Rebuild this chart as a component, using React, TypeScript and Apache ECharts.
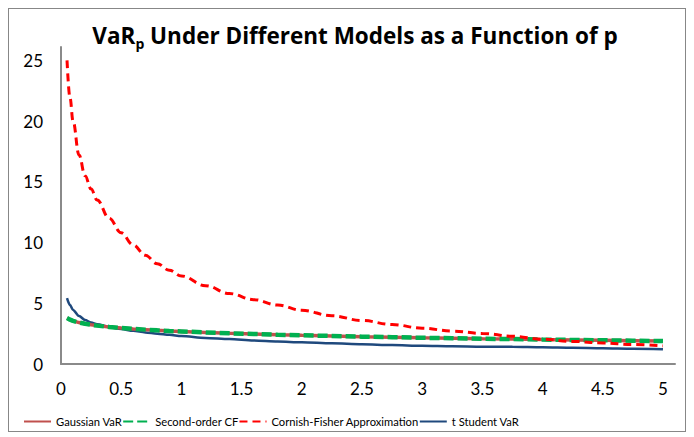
import React, { useEffect, useRef } from "react";
import * as echarts from "echarts";

// p (in %) at which each VaR estimate is evaluated
const pValues = [
  0.05, 0.075, 0.1, 0.15, 0.2, 0.25, 0.3, 0.4, 0.5, 0.6, 0.7, 0.8, 0.9, 1, 1.2,
  1.4, 1.6, 1.8, 2, 2.25, 2.5, 2.75, 3, 3.25, 3.5, 3.75, 4, 4.25, 4.5, 4.75, 5,
];

const gaussianVaR = [
  3.78, 3.65, 3.55, 3.41, 3.31, 3.23, 3.16, 3.05, 2.96, 2.89, 2.83, 2.77, 2.72,
  2.68, 2.6, 2.53, 2.47, 2.41, 2.36, 2.31, 2.25, 2.21, 2.16, 2.12, 2.08, 2.05,
  2.01, 1.98, 1.95, 1.92, 1.89,
];

const secondOrderCF = [
  3.78, 3.65, 3.55, 3.41, 3.31, 3.23, 3.16, 3.05, 2.96, 2.89, 2.83, 2.77, 2.72,
  2.68, 2.6, 2.53, 2.47, 2.41, 2.36, 2.31, 2.25, 2.21, 2.16, 2.12, 2.08, 2.05,
  2.01, 1.98, 1.95, 1.92, 1.89,
];

const cornishFisher = [
  25.0, 21.9, 20.0, 17.2, 15.5, 14.4, 13.5, 12.0, 10.8, 9.8, 8.95, 8.25, 7.72,
  7.25, 6.45, 5.8, 5.3, 4.85, 4.42, 3.97, 3.58, 3.25, 2.95, 2.71, 2.52, 2.28,
  2.04, 1.86, 1.73, 1.6, 1.49,
];

const tStudentVaR = [
  5.43, 4.85, 4.45, 3.95, 3.62, 3.42, 3.28, 3.05, 2.88, 2.73, 2.6, 2.5, 2.4,
  2.3, 2.15, 2.05, 1.93, 1.85, 1.79, 1.7, 1.62, 1.56, 1.5, 1.46, 1.43, 1.41,
  1.37, 1.33, 1.3, 1.26, 1.22,
];

const seriesNames = [
  "Gaussian VaR",
  "Second-order CF",
  "Cornish-Fisher Approximation",
  "t Student VaR",
];

const pairs = (ys: number[]) => pValues.map((p, i) => [p, ys[i]]);

const FONT = "Lato, 'Open Sans', sans-serif";
const TITLE_FONT = "'Open Sans', Lato, sans-serif";

export default function App() {
  const ref = useRef<HTMLDivElement>(null);

  useEffect(() => {
    if (!ref.current) return;
    const chart = echarts.init(ref.current, undefined, { renderer: "svg" });
    const axisLine = { show: true, lineStyle: { color: "#8a8a8a", width: 2 } };
    chart.setOption({
      animation: false,
      backgroundColor: "#ffffff",
      textStyle: { fontFamily: FONT },
      title: {
        text: "{a|VaR}{b|p}{a| Under Different Models as a Function of p}",
        left: 341,
        textAlign: "center",
        top: 10,
        textStyle: {
          rich: {
            a: {
              fontFamily: TITLE_FONT,
              fontSize: 22.5,
              fontWeight: "bold",
              color: "#000",
              lineHeight: 26,
              verticalAlign: "top",
            },
            b: {
              fontFamily: TITLE_FONT,
              fontSize: 14,
              fontWeight: "bold",
              color: "#000",
              lineHeight: 10,
              verticalAlign: "bottom",
            },
          },
        },
      },
      legend: {
        left: 9,
        top: 402,
        itemWidth: 27,
        itemHeight: 12,
        itemGap: 0,
        data: seriesNames,
        itemStyle: { opacity: 0 },
        textStyle: { fontFamily: FONT, fontSize: 11.2, color: "#000" },
      },
      grid: { left: 52, right: 10, top: 38, bottom: 67 },
      xAxis: {
        type: "value",
        min: 0,
        max: 5.1,
        interval: 0.5,
        axisLine,
        axisTick: { show: false },
        splitLine: { show: false },
        axisLabel: {
          showMaxLabel: false,
          margin: 16,
          fontFamily: FONT,
          fontSize: 17,
          color: "#000",
        },
      },
      yAxis: {
        type: "value",
        min: 0,
        max: 26.1,
        interval: 5,
        axisLine,
        axisTick: { show: false },
        splitLine: { show: false },
        axisLabel: {
          showMaxLabel: false,
          margin: 18,
          fontFamily: FONT,
          fontSize: 17,
          color: "#000",
        },
      },
      series: [
        {
          name: seriesNames[0],
          type: "line",
          symbol: "none",
          data: pairs(gaussianVaR),
          lineStyle: { color: "#C0504D", width: 3.5, type: "solid" },
          itemStyle: { color: "#C0504D" },
          z: 2,
        },
        {
          name: seriesNames[1],
          type: "line",
          symbol: "none",
          data: pairs(secondOrderCF),
          lineStyle: { color: "#00B050", width: 4.5, type: [10, 4] },
          itemStyle: { color: "#00B050" },
          z: 3,
        },
        {
          name: seriesNames[2],
          type: "line",
          symbol: "none",
          smooth: 0.4,
          smoothMonotone: "x",
          data: pairs(cornishFisher),
          lineStyle: { color: "#FF0000", width: 3, type: [8, 5] },
          itemStyle: { color: "#FF0000" },
          z: 4,
        },
        {
          name: seriesNames[3],
          type: "line",
          symbol: "none",
          smooth: 0.3,
          smoothMonotone: "x",
          data: pairs(tStudentVaR),
          lineStyle: { color: "#1F497D", width: 2.5, type: "solid" },
          itemStyle: { color: "#1F497D" },
          z: 1,
        },
      ],
    });
    return () => chart.dispose();
  }, []);

  return (
    <div
      style={{
        width: 678,
        height: 424,
        border: "1px solid #878787",
        boxSizing: "border-box",
      }}
    >
      <div ref={ref} style={{ width: 676, height: 422 }} />
    </div>
  );
}
